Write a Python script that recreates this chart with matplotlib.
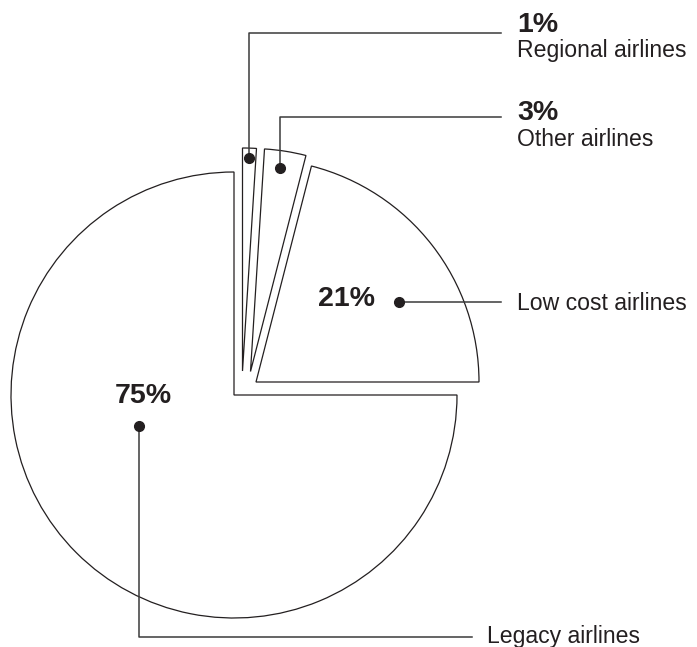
import matplotlib.pyplot as plt
from matplotlib.patches import Wedge

# data
labels = ["Regional airlines", "Other airlines", "Low cost airlines", "Legacy airlines"]
shares = [1, 3, 21, 75]
pct_text = ["1%", "3%", "21%", "75%"]

# layout, in pixels from the top-left of the picture
W, H = 697, 647
RADIUS = 223
apex = [(242.5, 371.0), (250.5, 371.5), (256.0, 382.0), (234.0, 395.0)]
dots = [(249.3, 157.7), (280.0, 167.7), (399.0, 302.0), (139.3, 426.0)]

plt.rcParams['font.family'] = ['Liberation Sans', 'DejaVu Sans']
ink = '#231f20'

fig = plt.figure(figsize=(W / 100, H / 100), dpi=100)
ax = fig.add_axes([0, 0, 1, 1])
ax.set_xlim(0, W)
ax.set_ylim(0, H)
ax.set_aspect('equal')
ax.axis('off')


def fy(y):
    # pixel row -> data y
    return H - y


# slices go clockwise from 12 o'clock, legacy takes what is left
cum = 90.0
for i, s in enumerate(shares):
    t2 = cum
    t1 = cum - s * 3.6
    cum = t1
    cx, cy = apex[i]
    w = Wedge((cx, fy(cy)), RADIUS, t1, t2, facecolor='white',
              edgecolor=ink, lw=0.9)
    ax.add_patch(w)

# dots
for (x, y) in dots:
    ax.plot(x, fy(y), 'o', color=ink, markersize=7, zorder=5)

lead = dict(color='#3a3a3a', lw=1.1, zorder=4)
LX = 517

# regional & other: up then right
ax.plot([dots[0][0], dots[0][0], 501], [fy(dots[0][1]), fy(33), fy(33)], **lead)
ax.plot([dots[1][0], dots[1][0], 501], [fy(dots[1][1]), fy(116.5), fy(116.5)], **lead)
ax.text(LX, fy(32.3), pct_text[0], fontsize=20.5, fontweight='bold', color=ink, va='baseline')
ax.text(LX, fy(57.5), labels[0], fontsize=16.6, color=ink, va='baseline')
ax.text(LX, fy(120.5), pct_text[1], fontsize=20.5, fontweight='bold', color=ink, va='baseline')
ax.text(LX, fy(146.5), labels[1], fontsize=16.6, color=ink, va='baseline')

# low cost: straight right
ax.plot([dots[2][0], 501], [fy(302), fy(302)], **lead)
ax.text(375, fy(305.7), pct_text[2], fontsize=20.5, fontweight='bold', color=ink,
        va='baseline', ha='right')
ax.text(LX, fy(309.5), labels[2], fontsize=16.6, color=ink, va='baseline')

# legacy: down then right
ax.plot([dots[3][0], dots[3][0], 472], [fy(dots[3][1]), fy(636.7), fy(636.7)], **lead)
ax.text(143.5, fy(403), pct_text[3], fontsize=20.5, fontweight='bold', color=ink,
        va='baseline', ha='center')
ax.text(486.7, fy(643), labels[3], fontsize=16.6, color=ink, va='baseline')

fig.savefig('out.png', dpi=100, facecolor='white')
